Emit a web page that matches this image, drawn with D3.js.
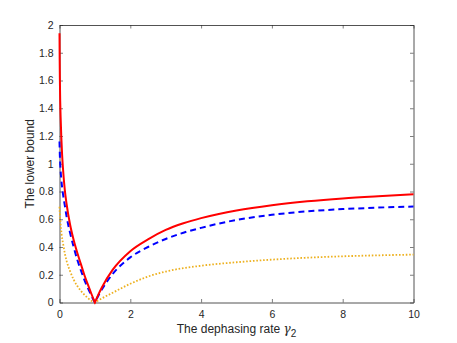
<!DOCTYPE html>
<html>
<head>
<meta charset="utf-8">
<script src="https://cdn.jsdelivr.net/npm/d3@7"></script>
<style>
  body { margin: 0; background: #fff; }
  svg { display: block; font-family: "Liberation Sans", Arial, sans-serif; }
  .tick text { font-size: 10.5px; fill: #262626; }
  .axis-label { font-size: 12px; fill: #262626; }
</style>
</head>
<body>
<svg width="457" height="343"></svg>
<script>
// values (gamma_2 , lower bound)
const redX  = [0, 0.005, 0.01, 0.02, 0.03, 0.05, 0.075, 0.1, 0.15, 0.2, 0.3, 0.4, 0.5, 0.6, 0.7, 0.8, 0.9, 1,
               1.1, 1.2, 1.5, 2, 2.5, 3, 3.5, 4, 4.5, 5, 6, 7, 8, 9, 10];
const redY  = [1.94, 1.75, 1.62, 1.45, 1.35, 1.2, 1.06, 0.96, 0.81, 0.71, 0.56, 0.45, 0.36, 0.28, 0.2, 0.13, 0.063, 0,
               0.058, 0.11, 0.235, 0.37, 0.455, 0.523, 0.571, 0.608, 0.638, 0.663, 0.701, 0.729, 0.75, 0.766, 0.78];
const blueX = [0, 0.01, 0.02, 0.05, 0.1, 0.15, 0.2, 0.3, 0.4, 0.5, 0.6, 0.7, 0.8, 0.9, 1,
               1.1, 1.2, 1.5, 2, 2.5, 3, 3.5, 4, 5, 6, 7, 8, 9, 10];
const blueY = [1.16, 1.06, 1.0, 0.89, 0.78, 0.7, 0.62, 0.5, 0.4, 0.31, 0.235, 0.165, 0.105, 0.05, 0,
               0.05, 0.095, 0.205, 0.325, 0.4, 0.458, 0.503, 0.538, 0.595, 0.632, 0.657, 0.673, 0.684, 0.692];
const yelX  = [0, 0.01, 0.03, 0.06, 0.1, 0.15, 0.2, 0.3, 0.4, 0.5, 0.6, 0.7, 0.8, 0.9, 1,
               1.2, 1.5, 2, 2.5, 3, 4, 5, 6, 7, 8, 9, 10];
const yelY  = [0.69, 0.64, 0.57, 0.49, 0.425, 0.355, 0.3, 0.225, 0.165, 0.12, 0.085, 0.057, 0.032, 0.013, 0,
               0.03, 0.07, 0.135, 0.187, 0.223, 0.265, 0.29, 0.309, 0.323, 0.333, 0.34, 0.345];
const xTicks = [0, 2, 4, 6, 8, 10];
const yTicks = [0, 0.2, 0.4, 0.6, 0.8, 1, 1.2, 1.4, 1.6, 1.8, 2];

const svg = d3.select("svg");
const margin = {left: 59.5, top: 25, right: 43.5, bottom: 40.5};
const width = +svg.attr("width"), height = +svg.attr("height");
const innerW = width - margin.left - margin.right;
const innerH = height - margin.top - margin.bottom;

const g = svg.append("g").attr("transform", `translate(${margin.left},${margin.top})`);

const x = d3.scaleLinear().domain([0, 10]).range([0, innerW]);
const y = d3.scaleLinear().domain([0, 2]).range([innerH, 0]);

const axisColor = "#262626";
const tl = 3.5;

// bottom / left axes with inward ticks
const xAxis = g.append("g").attr("transform", `translate(0,${innerH})`)
  .call(d3.axisBottom(x).tickValues(xTicks).tickSizeInner(-tl).tickSizeOuter(0).tickPadding(8).tickFormat(d3.format("")));
const yAxis = g.append("g")
  .call(d3.axisLeft(y).tickValues(yTicks).tickSizeInner(-tl).tickSizeOuter(0).tickPadding(6).tickFormat(d3.format("")));
// top / right ticks without labels
const xTop = g.append("g")
  .call(d3.axisTop(x).tickValues(xTicks).tickSizeInner(-tl).tickSizeOuter(0).tickFormat(""));
const yRight = g.append("g").attr("transform", `translate(${innerW},0)`)
  .call(d3.axisRight(y).tickValues(yTicks).tickSizeInner(-tl).tickSizeOuter(0).tickFormat(""));

[xAxis, yAxis, xTop, yRight].forEach(a => {
  a.selectAll(".domain").attr("stroke", axisColor).attr("stroke-width", 0.8);
  a.selectAll(".tick line").attr("stroke", axisColor).attr("stroke-width", 0.6);
});

// curves, each drawn as two branches so the cusp at gamma = 1 stays sharp
function branches(xs, ys) {
  const pts = xs.map((v, i) => [v, ys[i]]);
  return [pts.filter(p => p[0] <= 1), pts.filter(p => p[0] >= 1)];
}
const line = d3.line().x(d => x(d[0])).y(d => y(d[1])).curve(d3.curveMonotoneX);

const series = [
  {xs: yelX, ys: yelY, color: "#EDB120", dash: "1.6,1.8", w: 1.8},
  {xs: blueX, ys: blueY, color: "#0000FF", dash: "6,4", w: 2},
  {xs: redX, ys: redY, color: "#FF0000", dash: null, w: 2}
];
const clip = svg.append("clipPath").attr("id", "clip").append("rect")
  .attr("x", -2).attr("y", -2).attr("width", innerW + 4).attr("height", innerH + 4);

series.forEach(s => {
  // a single path keeps the dash pattern continuous through the cusp
  const [a, b] = branches(s.xs, s.ys);
  const dStr = line(a) + line(b).replace(/^M[^A-Za-z]*/, m => "L" + m.slice(1));
  g.append("path")
    .attr("d", dStr)
    .attr("fill", "none")
    .attr("stroke", s.color)
    .attr("stroke-width", s.w)
    .attr("stroke-dasharray", s.dash)
    .attr("clip-path", "url(#clip)");
});

// axis labels
g.append("text").attr("class", "axis-label")
  .attr("transform", `translate(${-26},${innerH / 2}) rotate(-90)`)
  .attr("text-anchor", "middle")
  .text("The lower bound");

const xl = g.append("text").attr("class", "axis-label")
  .attr("x", innerW / 2).attr("y", innerH + 30)
  .attr("text-anchor", "middle");
xl.append("tspan").text("The dephasing rate ");
xl.append("tspan").attr("font-family", "'DejaVu Serif', serif").attr("font-style", "italic").text("γ");
xl.append("tspan").attr("dy", 4).attr("font-size", "10px").text("2");
</script>
</body>
</html>
